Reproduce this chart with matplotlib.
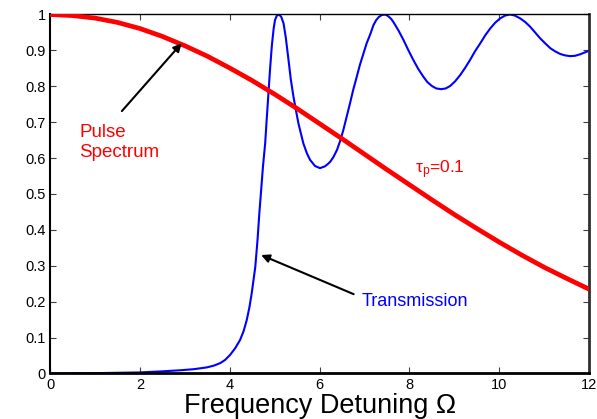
#!/usr/bin/env python3
"""Pulse spectrum against grating transmission versus frequency detuning.

Writes out.png.
"""

from __future__ import annotations

import matplotlib

matplotlib.use("Agg")
import matplotlib.pyplot as plt

plt.rcParams["font.family"] = ["Liberation Sans", "DejaVu Sans"]
plt.rcParams["mathtext.fontset"] = "custom"
plt.rcParams["mathtext.rm"] = "Liberation Sans"
plt.rcParams["mathtext.it"] = "Liberation Sans"

# Gaussian pulse spectrum (tau_p = 0.1)
omega_pulse = [0.0, 0.5, 1.0, 1.5, 2.0, 2.5, 3.0, 3.5, 4.0, 4.5, 5.0, 5.5,
               6.0, 6.5, 7.0, 7.5, 8.0, 8.5, 9.0, 9.5, 10.0, 10.5, 11.0, 11.5, 12.0]
pulse_spectrum = [1.000, 0.997, 0.990, 0.978, 0.961, 0.939, 0.913, 0.884, 0.851,
                  0.816, 0.778, 0.738, 0.696, 0.654, 0.611, 0.568, 0.526, 0.484,
                  0.443, 0.404, 0.366, 0.330, 0.296, 0.265, 0.235]

# transmission of the structure
omega_trans = [0.0, 1.0, 2.0, 2.5, 2.9, 3.2, 3.49, 3.65, 3.79, 3.90, 4.01, 4.12,
               4.23, 4.31, 4.38, 4.44, 4.49, 4.53, 4.57, 4.62, 4.66, 4.70, 4.74,
               4.79, 4.82, 4.86, 4.90, 4.94, 4.98, 5.01, 5.05, 5.10, 5.15, 5.20,
               5.25, 5.31, 5.36, 5.42, 5.48, 5.53, 5.64, 5.72, 5.79, 5.90, 6.01,
               6.12, 6.18, 6.24, 6.31, 6.39, 6.46, 6.53, 6.60, 6.68, 6.75, 6.83,
               6.90, 6.98, 7.05, 7.13, 7.20, 7.26, 7.32, 7.38, 7.44, 7.50, 7.55,
               7.60, 7.65, 7.76, 7.87, 7.98, 8.09, 8.20, 8.31, 8.40, 8.50, 8.60,
               8.71, 8.81, 8.91, 9.02, 9.13, 9.24, 9.35, 9.46, 9.58, 9.69, 9.80,
               9.91, 10.02, 10.13, 10.24, 10.35, 10.47, 10.58, 10.69, 10.80,
               10.91, 11.03, 11.14, 11.25, 11.36, 11.47, 11.58, 11.69, 11.80,
               11.90, 12.0]
transmission = [0.000, 0.001, 0.003, 0.006, 0.009, 0.012, 0.017, 0.022, 0.029,
                0.038, 0.052, 0.070, 0.093, 0.118, 0.149, 0.185, 0.223, 0.260,
                0.297, 0.372, 0.446, 0.510, 0.575, 0.641, 0.700, 0.775, 0.850,
                0.915, 0.962, 0.985, 0.997, 1.000, 0.993, 0.975, 0.935, 0.873,
                0.820, 0.771, 0.730, 0.697, 0.641, 0.613, 0.595, 0.578, 0.572,
                0.577, 0.583, 0.590, 0.603, 0.623, 0.648, 0.678, 0.713, 0.753,
                0.790, 0.827, 0.860, 0.892, 0.920, 0.945, 0.970, 0.984, 0.993,
                0.998, 1.000, 0.998, 0.993, 0.987, 0.978, 0.955, 0.929, 0.900,
                0.873, 0.848, 0.827, 0.812, 0.801, 0.794, 0.792, 0.794, 0.801,
                0.814, 0.831, 0.851, 0.873, 0.897, 0.920, 0.942, 0.961, 0.977,
                0.989, 0.997, 1.000, 0.997, 0.989, 0.979, 0.966, 0.950, 0.934,
                0.919, 0.906, 0.897, 0.890, 0.886, 0.884, 0.885, 0.889, 0.894,
                0.899]

x_ticks = [0, 2, 4, 6, 8, 10, 12]
y_ticks = [0, 0.1, 0.2, 0.3, 0.4, 0.5, 0.6, 0.7, 0.8, 0.9, 1]
y_tick_labels = ["0", "0.1", "0.2", "0.3", "0.4", "0.5", "0.6", "0.7", "0.8", "0.9", "1"]

RED = "#ff0000"
BLUE = "#0000ff"


def make_plot(output: str) -> None:
    fig = plt.figure(figsize=(5.97, 4.19), dpi=100)
    ax = fig.add_axes([0.0838, 0.1086, 0.9028, 0.8568])

    ax.plot(omega_pulse, pulse_spectrum, color=RED, lw=3.4, solid_capstyle="butt", zorder=3)
    ax.plot(omega_trans, transmission, color=BLUE, lw=1.5, zorder=2)

    ax.set_xlim(0, 12)
    ax.set_ylim(0, 1)
    ax.set_xticks(x_ticks)
    ax.set_xticklabels([str(t) for t in x_ticks])
    ax.set_yticks(y_ticks)
    ax.set_yticklabels(y_tick_labels)
    ax.tick_params(direction="in", length=4, width=0.8, top=True, right=True,
                   labelsize=10.5, pad=3, color="#404040")
    ax.set_xlabel("Frequency Detuning \u03a9", fontsize=19.5, labelpad=1)

    ax.spines["bottom"].set_linewidth(2.0)
    ax.spines["left"].set_linewidth(1.5)
    ax.spines["right"].set_linewidth(2.0)
    ax.spines["right"].set_color("#303030")
    ax.spines["top"].set_linewidth(1.0)

    ax.text(0.65, 0.659, "Pulse", color=RED, fontsize=13.5, ha="left", va="baseline")
    ax.text(0.65, 0.604, "Spectrum", color=RED, fontsize=13.5, ha="left", va="baseline")
    ax.text(8.13, 0.558, r"$\mathregular{\tau_p}$=0.1", color=RED, fontsize=12.5,
            ha="left", va="baseline")
    ax.text(6.94, 0.188, "Transmission", color=BLUE, fontsize=13, ha="left", va="baseline")

    arrow = dict(arrowstyle="-|>", color="black", lw=1.5, mutation_scale=12,
                 shrinkA=0, shrinkB=0)
    ax.annotate("", xy=(2.93, 0.920), xytext=(1.60, 0.731), arrowprops=arrow, zorder=5)
    ax.annotate("", xy=(4.70, 0.330), xytext=(6.76, 0.221), arrowprops=arrow, zorder=5)

    fig.savefig(output, dpi=100)
    plt.close(fig)


if __name__ == "__main__":
    make_plot("out.png")
